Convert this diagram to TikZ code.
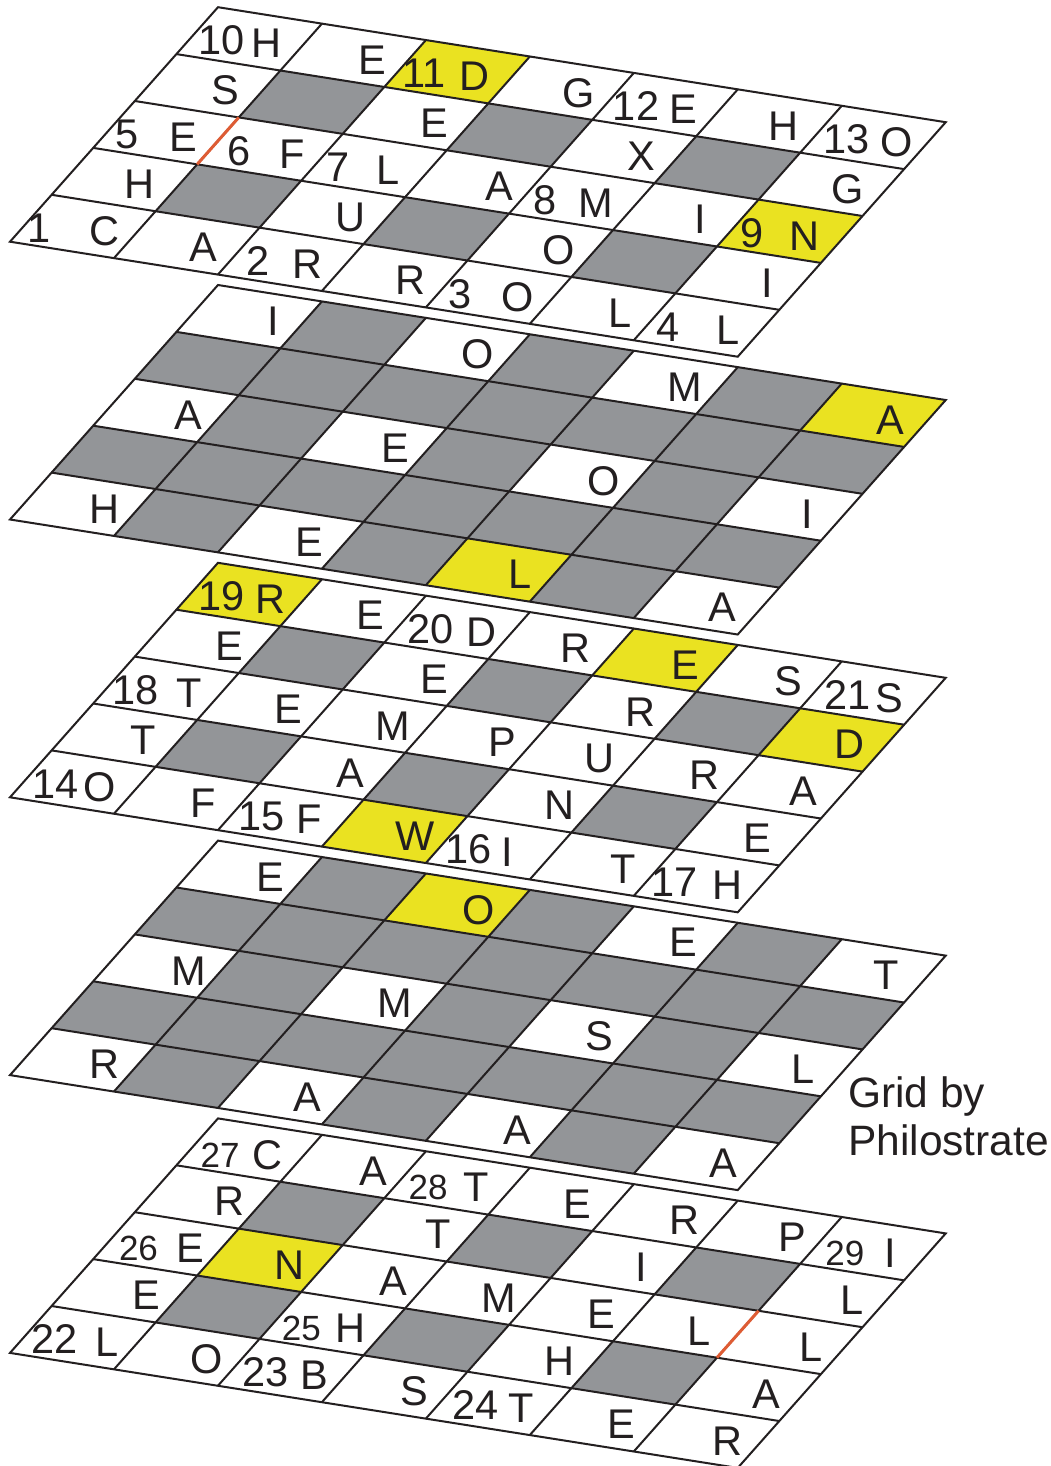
\documentclass[tikz,border=0pt]{standalone}
\usepackage{fontspec}
\setmainfont{Liberation Sans}
\definecolor{cy}{RGB}{234,226,33}
\definecolor{cg}{RGB}{147,149,152}
\definecolor{cr}{RGB}{222,92,52}
\definecolor{ck}{RGB}{35,31,32}
\newcounter{tn}
\tikzset{
  lt/.style={font=\fontsize{41.5}{44}\selectfont, inner sep=0pt, anchor=base, text=ck},
  sn/.style={font=\fontsize{35}{37}\selectfont, inner sep=0pt, anchor=base, text=ck},
  gl/.style={line width=2pt, draw=ck, line join=miter},
  redge/.style={line width=3pt, draw=cr, line cap=butt},
  layer/.style={x={(103.96pt,-16.43pt)}, y={(41.6pt,46.9pt)}, shift={(10pt,-#1pt)}}
}
% letter
\newcommand\Lt[4]{\stepcounter{tn}\node[lt] (t\arabic{tn}) at ([xshift=#3pt,yshift=-19pt]#1+.5,#2+.5) {#4};}
% number + letter
\newcommand\Nl[6]{\stepcounter{tn}\node[lt] (n\arabic{tn}) at ([xshift=#3pt,yshift=-16pt]#1+.5,#2+.5) {#4};%
  \node[lt] (t\arabic{tn}) at ([xshift=#5pt,yshift=-19pt]#1+.5,#2+.5) {#6};}
% small number + letter
\newcommand\Sl[6]{\stepcounter{tn}\node[sn] (n\arabic{tn}) at ([xshift=#3pt,yshift=-17pt]#1+.5,#2+.5) {#4};%
  \node[lt] (t\arabic{tn}) at ([xshift=#5pt,yshift=-19pt]#1+.5,#2+.5) {#6};}
\newcommand\Cell[3]{\fill[#3] (#1,#2) -- ++(1,0) -- ++(0,1) -- ++(-1,0) -- cycle;}
\newcommand\Gridlines{%
  \foreach \i in {1,...,6} \draw[gl] (\i,0) -- (\i,5);
  \foreach \j in {1,...,4} \draw[gl] (0,\j) -- (7,\j);
  \draw[gl] (0,0) -- (7,0) -- (7,5) -- (0,5) -- cycle;}
\newcommand\OddFill{\foreach \c in {1,3,5} {\foreach \r in {1,3} {\Cell{\c}{\r}{cg}}}}
\newcommand\EvenFill{\fill[cg] (0,0) -- (7,0) -- (7,5) -- (0,5) -- cycle;
  \foreach \c in {0,2,4,6} {\foreach \r in {0,2,4} {\Cell{\c}{\r}{white}}}}

\begin{document}
\begin{tikzpicture}
\useasboundingbox (0pt,0pt) rectangle (1051pt,-1466pt);
\fill[white] (0pt,0pt) rectangle (1051pt,-1466pt);

% ---------- Layer 1 ----------
\begin{scope}[layer=241.7]
\OddFill
\Cell{2}{4}{cy}\Cell{6}{2}{cy}
\Gridlines
\draw[redge] (1,2) -- (1,3);
\Nl{0}{4}{-28}{10}{17}{H}
\Lt{1}{4}{19}{E}
\Nl{2}{4}{-33}{11}{17}{D}
\Lt{3}{4}{18}{G}
\Nl{4}{4}{-29}{12}{18}{E}
\Lt{5}{4}{14}{H}
\Nl{6}{4}{-26}{13}{24}{O}
\Lt{0}{3}{18}{S}
\Lt{2}{3}{19}{E}
\Lt{4}{3}{18}{X}
\Lt{6}{3}{16}{G}
\Nl{0}{2}{-39}{5}{17}{E}
\Nl{1}{2}{-31}{6}{22}{F}
\Nl{2}{2}{-36}{7}{14}{L}
\Lt{3}{2}{21}{A}
\Nl{4}{2}{-37}{8}{14}{M}
\Lt{5}{2}{14}{I}
\Nl{6}{2}{-38}{9}{15}{N}
\Lt{0}{1}{15}{H}
\Lt{2}{1}{18}{U}
\Lt{4}{1}{18}{O}
\Lt{6}{1}{19}{I}
\Nl{0}{0}{-44}{1}{22}{C}
\Lt{1}{0}{17}{A}
\Nl{2}{0}{-33}{2}{17}{R}
\Lt{3}{0}{16}{R}
\Nl{4}{0}{-39}{3}{19}{O}
\Lt{5}{0}{17}{L}
\Nl{6}{0}{-39}{4}{21}{L}
\end{scope}

% ---------- Layer 2 ----------
\begin{scope}[layer=519.5]
\EvenFill
\Cell{6}{4}{cy}\Cell{4}{0}{cy}
\Gridlines
\Lt{0}{4}{24}{I}
\Lt{2}{4}{21}{O}
\Lt{4}{4}{20}{M}
\Lt{6}{4}{17}{A}
\Lt{0}{2}{22}{A}
\Lt{2}{2}{21}{E}
\Lt{4}{2}{22}{O}
\Lt{6}{2}{18}{I}
\Lt{0}{0}{22}{H}
\Lt{2}{0}{19}{E}
\Lt{4}{0}{21}{L}
\Lt{6}{0}{16}{A}
\end{scope}

% ---------- Layer 3 ----------
\begin{scope}[layer=797.3]
\OddFill
\Cell{0}{4}{cy}\Cell{4}{4}{cy}\Cell{6}{3}{cy}\Cell{3}{0}{cy}
\Gridlines
\Nl{0}{4}{-28}{19}{21}{R}
\Lt{1}{4}{17}{E}
\Nl{2}{4}{-27}{20}{24}{D}
\Lt{3}{4}{14}{R}
\Lt{4}{4}{20}{E}
\Lt{5}{4}{19}{S}
\Nl{6}{4}{-25}{21}{16}{S}
\Lt{0}{3}{22}{E}
\Lt{2}{3}{19}{E}
\Lt{4}{3}{17}{R}
\Lt{6}{3}{18}{D}
\Nl{0}{2}{-30}{18}{23}{T}
\Lt{1}{2}{18}{E}
\Lt{2}{2}{19}{M}
\Lt{3}{2}{24}{P}
\Lt{4}{2}{18}{U}
\Lt{5}{2}{19}{R}
\Lt{6}{2}{14}{A}
\Lt{0}{1}{19}{T}
\Lt{2}{1}{18}{A}
\Lt{4}{1}{19}{N}
\Lt{6}{1}{9}{E}
\Nl{0}{0}{-27}{14}{17}{O}
\Lt{1}{0}{16}{F}
\Nl{2}{0}{-29}{15}{18}{F}
\Lt{3}{0}{20}{W}
\Nl{4}{0}{-30}{16}{9}{I}
\Lt{5}{0}{21}{T}
\Nl{6}{0}{-32}{17}{21}{H}
\end{scope}

% ---------- Layer 4 ----------
\begin{scope}[layer=1075.1]
\EvenFill
\Cell{2}{4}{cy}
\Gridlines
\Lt{0}{4}{21}{E}
\Lt{2}{4}{22}{O}
\Lt{4}{4}{18}{E}
\Lt{6}{4}{13}{T}
\Lt{0}{2}{23}{M}
\Lt{2}{2}{21}{M}
\Lt{4}{2}{18}{S}
\Lt{6}{2}{13}{L}
\Lt{0}{0}{22}{R}
\Lt{2}{0}{17}{A}
\Lt{4}{0}{19}{A}
\Lt{6}{0}{17}{A}
\end{scope}

% ---------- Layer 5 ----------
\begin{scope}[layer=1352.9]
\OddFill
\Cell{1}{2}{cy}
\Gridlines
\draw[redge] (6,2) -- (6,3);
\Sl{0}{4}{-29}{27}{18}{C}
\Lt{1}{4}{20}{A}
\Sl{2}{4}{-29}{28}{19}{T}
\Lt{3}{4}{16}{E}
\Lt{4}{4}{19}{R}
\Lt{5}{4}{23}{P}
\Sl{6}{4}{-28}{29}{17}{I}
\Lt{0}{3}{22}{R}
\Lt{2}{3}{23}{T}
\Lt{4}{3}{18}{I}
\Lt{6}{3}{21}{L}
\Sl{0}{2}{-27.5}{26}{24.5}{E}
\Lt{1}{2}{20}{N}
\Lt{2}{2}{19}{A}
\Lt{3}{2}{21}{M}
\Lt{4}{2}{20}{E}
\Lt{5}{2}{13}{L}
\Lt{6}{2}{21}{L}
\Lt{0}{1}{22}{E}
\Sl{2}{1}{-31}{25}{18}{H}
\Lt{4}{1}{19}{H}
\Lt{6}{1}{18.5}{A}
\Nl{0}{0}{-28}{22}{24}{L}
\Lt{1}{0}{20}{O}
\Nl{2}{0}{-25}{23}{24}{B}
\Lt{3}{0}{20}{S}
\Nl{4}{0}{-23}{24}{23}{T}
\Lt{5}{0}{19}{E}
\Lt{6}{0}{21}{R}
\end{scope}

% ---------- credit ----------
\node[font=\fontsize{42.5}{45}\selectfont, anchor=base west, inner sep=0pt, text=ck] (credit1) at (848pt,-1107pt) {Grid by};
\node[font=\fontsize{42.5}{45}\selectfont, anchor=base west, inner sep=0pt, text=ck] (credit2) at (848pt,-1155pt) {Philostrate};
\end{tikzpicture}
\end{document}
